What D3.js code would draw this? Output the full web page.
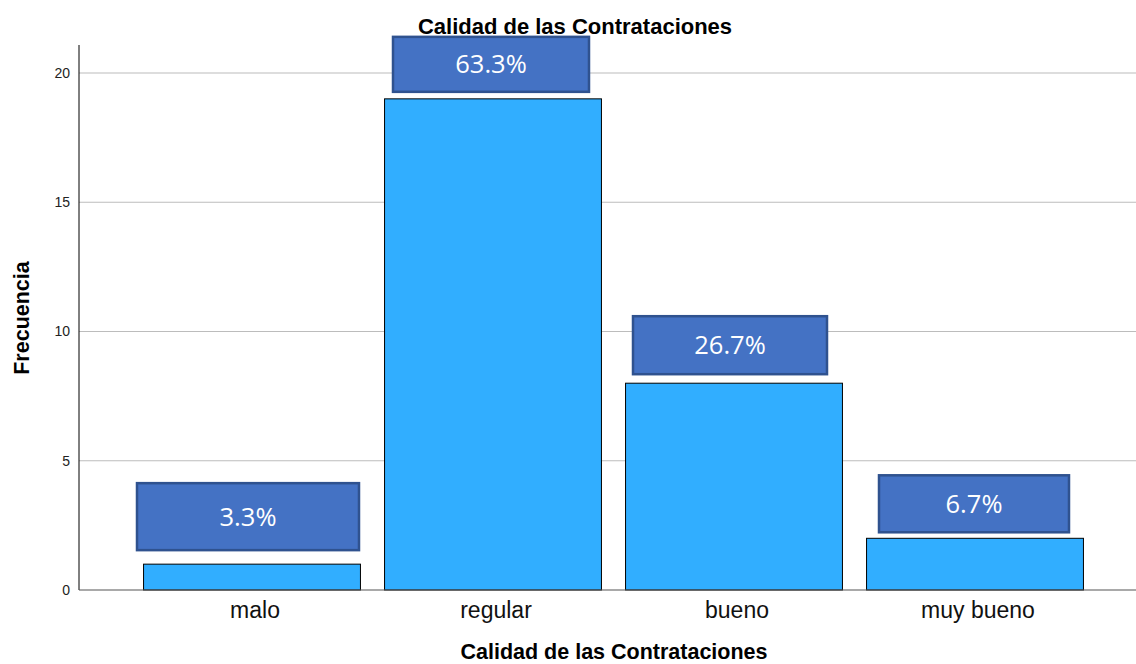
<!DOCTYPE html>
<html>
<head>
<meta charset="utf-8">
<script src="https://cdn.jsdelivr.net/npm/d3@7"></script>
<style>
  html, body { margin: 0; padding: 0; background: #fff; }
  svg { display: block; }
</style>
</head>
<body>
<svg id="chart" width="1136" height="664"></svg>
<script>
// ---- data ----
const categories = ["malo", "regular", "bueno", "muy bueno"];
const frequencies = [1, 19, 8, 2];
const percentLabels = ["3.3%", "63.3%", "26.7%", "6.7%"];
const yTicks = [0, 5, 10, 15, 20];
const chartTitle = "Calidad de las Contrataciones";
const xTitle = "Calidad de las Contrataciones";
const yTitle = "Frecuencia";

// ---- layout of the annotation boxes (relative to each bar) ----
const boxWidths = [222, 196, 194, 190];
const boxHeights = [67, 55, 58, 57];
const boxGaps = [14, 7, 9, 6];
const boxShift = [-4, -2, -4, -1];

const svg = d3.select("#chart");
const plotLeft = 79, plotRight = 1136, plotTop = 45, plotBottom = 590;

const x = d3.scaleBand().domain(categories).range([131.5, 1095.5]).paddingInner(0.1).paddingOuter(0.05);
const y = d3.scaleLinear().domain([0, 20]).range([plotBottom, 73]);

// gridlines
svg.append("g").selectAll("line").data(yTicks.filter(d => d > 0)).join("line")
  .attr("x1", plotLeft).attr("x2", plotRight)
  .attr("y1", d => y(d)).attr("y2", d => y(d))
  .attr("stroke", "#bcbcbc").attr("stroke-width", 1.2);

// y axis
const yAxis = d3.axisLeft(y).tickValues(yTicks).tickSize(0).tickPadding(9);
const gy = svg.append("g").attr("transform", `translate(${plotLeft},0)`).call(yAxis);
gy.select(".domain").remove();
gy.selectAll("text").attr("font-family", "Arial, 'Liberation Sans', sans-serif").attr("font-size", 14).attr("fill", "#222");
svg.append("line").attr("x1", plotLeft).attr("x2", plotLeft).attr("y1", plotTop).attr("y2", plotBottom)
  .attr("stroke", "#000").attr("stroke-width", 1);

// bars
svg.append("g").selectAll("rect").data(categories).join("rect")
  .attr("x", d => x(d))
  .attr("y", (d, i) => y(frequencies[i]))
  .attr("width", x.bandwidth())
  .attr("height", (d, i) => y(0) - y(frequencies[i]))
  .attr("fill", "#31aeff").attr("stroke", "#000").attr("stroke-width", 1);

// baseline
svg.append("line").attr("x1", plotLeft).attr("x2", plotRight).attr("y1", plotBottom).attr("y2", plotBottom)
  .attr("stroke", "#555").attr("stroke-width", 1.2);

// x axis labels
const xAxis = d3.axisBottom(x).tickSize(0).tickPadding(12);
const gx = svg.append("g").attr("transform", `translate(3,${plotBottom})`).call(xAxis);
gx.select(".domain").remove();
gx.selectAll("text").attr("font-family", "Arial, 'Liberation Sans', sans-serif").attr("font-size", 23).attr("fill", "#111");

// annotation boxes
const ann = svg.append("g").selectAll("g").data(categories).join("g");
ann.append("rect")
  .attr("x", (d, i) => x(d) + x.bandwidth() / 2 + boxShift[i] - boxWidths[i] / 2)
  .attr("y", (d, i) => y(frequencies[i]) - boxGaps[i] - boxHeights[i])
  .attr("width", (d, i) => boxWidths[i])
  .attr("height", (d, i) => boxHeights[i])
  .attr("fill", "#4472c4").attr("stroke", "#2f528f").attr("stroke-width", 2.5);
ann.append("text")
  .attr("x", (d, i) => x(d) + x.bandwidth() / 2 + boxShift[i])
  .attr("y", (d, i) => y(frequencies[i]) - boxGaps[i] - boxHeights[i] / 2)
  .attr("dy", "0.35em")
  .attr("text-anchor", "middle")
  .attr("font-family", "'Open Sans', 'Noto Sans', sans-serif")
  .attr("font-size", 25.5).attr("fill", "#fff")
  .text((d, i) => percentLabels[i]);

// titles
const titleFont = "Arial, 'Liberation Sans', sans-serif";
svg.append("text").attr("x", 575).attr("y", 34).attr("text-anchor", "middle")
  .attr("font-family", titleFont).attr("font-weight", "bold").attr("font-size", 22)
  .text(chartTitle);
svg.append("text").attr("x", 614).attr("y", 659).attr("text-anchor", "middle")
  .attr("font-family", titleFont).attr("font-weight", "bold").attr("font-size", 21.5)
  .text(xTitle);
svg.append("text").attr("transform", "translate(29,318) rotate(-90)").attr("text-anchor", "middle")
  .attr("font-family", titleFont).attr("font-weight", "bold").attr("font-size", 21.5)
  .text(yTitle);
</script>
</body>
</html>
